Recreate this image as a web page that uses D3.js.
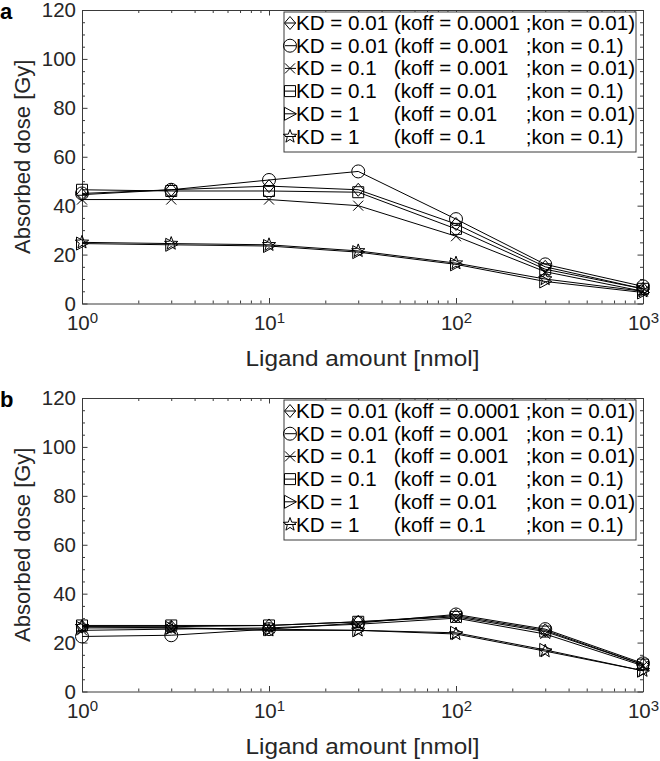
<!DOCTYPE html>
<html><head><meta charset="utf-8">
<script src="https://cdn.jsdelivr.net/npm/d3@7"></script>
<style>
body{margin:0;background:#fff}
svg text{font-family:"Liberation Sans",Arial,Helvetica,sans-serif}
</style>
</head><body>
<svg id="chart" width="660" height="761"></svg>
<script>
// ---------- data ----------
const ligandAmounts = [1, 3, 10, 30, 100, 300, 1000];
const seriesLabels = [
  "KD = 0.01 (koff = 0.0001 ;kon = 0.01)",
  "KD = 0.01 (koff = 0.001   ;kon = 0.1)",
  "KD = 0.1   (koff = 0.001   ;kon = 0.01)",
  "KD = 0.1   (koff = 0.01     ;kon = 0.1)",
  "KD = 1      (koff = 0.01     ;kon = 0.01)",
  "KD = 1      (koff = 0.1       ;kon = 0.1)"
];
const seriesMarkers = ["diamond", "circle", "cross", "square", "triangle", "star"];

// panel a
const a_kd001_koff00001 = [44.5, 46.5, 48, 46.5, 32.5, 15, 6];
const a_kd001_koff0001  = [45, 46.5, 50.5, 54, 34.5, 16, 7];
const a_kd01_koff0001   = [42.5, 42.5, 42.5, 40, 27.5, 13, 5];
const a_kd01_koff001    = [46.5, 46, 46, 45.5, 30.5, 14, 6];
const a_kd1_koff001     = [24.5, 24, 23.5, 21, 16, 9, 4.5];
const a_kd1_koff01      = [25, 24.5, 24, 21.5, 16.5, 10, 5];
// panel b
const b_kd001_koff00001 = [26.5, 26.5, 27, 28.5, 31, 25, 11];
const b_kd001_koff0001  = [22.5, 23, 25.5, 28, 31.5, 25.5, 11.5];
const b_kd01_koff0001   = [25, 25.5, 26, 27.5, 30, 23.5, 10.5];
const b_kd01_koff001    = [27, 27, 27, 28.5, 30.5, 24.5, 11];
const b_kd1_koff001     = [26, 26, 25.5, 25, 24, 17, 8.5];
const b_kd1_koff01      = [26.5, 26, 25, 25, 23.5, 16.5, 8.5];

const panelLetters = ["a", "b"];
const yTickValues = [0, 20, 40, 60, 80, 100, 120];
const xTickValues = [1, 10, 100, 1000];
const xLabel = "Ligand amount [nmol]";
const yLabel = "Absorbed dose [Gy]";

const panelSeries = [
  [a_kd001_koff00001, a_kd001_koff0001, a_kd01_koff0001, a_kd01_koff001, a_kd1_koff001, a_kd1_koff01],
  [b_kd001_koff00001, b_kd001_koff0001, b_kd01_koff0001, b_kd01_koff001, b_kd1_koff001, b_kd1_koff01]
];

// ---------- layout ----------
const L = 82, R = 643, panelTops = [10, 398], H = 293.5;
const axisColor = "#3a3a3a", textColor = "#262626";

function markerPath(type) {
  switch (type) {
    case "diamond": return "M0,-6.5L5.5,0L0,6.5L-5.5,0Z";
    case "circle": return "M6.5,0A6.5,6.5 0 1,1 -6.5,0A6.5,6.5 0 1,1 6.5,0Z";
    case "cross": return "M-5,-5L5,5M-5,5L5,-5";
    case "square": return "M-5.5,-5.5H5.5V5.5H-5.5Z";
    case "triangle": return "M-5.5,-6.5L6.5,0L-5.5,6.5Z";
    case "star": {
      let p = "";
      for (let i = 0; i < 10; i++) {
        const r = i % 2 === 0 ? 7 : 2.9;
        const a = -Math.PI / 2 + i * Math.PI / 5;
        p += (i === 0 ? "M" : "L") + (r * Math.cos(a)).toFixed(2) + "," + (r * Math.sin(a)).toFixed(2);
      }
      return p + "Z";
    }
  }
}

const svg = d3.select("#chart");
svg.append("rect").attr("width", 660).attr("height", 761).attr("fill", "#fff");

const xMinor = [];
[1, 10, 100].forEach(d => { for (let k = 2; k <= 9; k++) xMinor.push(d * k); });
const yMinor = d3.range(0, 121, 5).filter(v => v % 20 !== 0);

panelTops.forEach((top, pi) => {
  const bottom = top + H;
  const x = d3.scaleLog().domain([1, 1000]).range([L, R]);
  const y = d3.scaleLinear().domain([0, 120]).range([bottom, top]);
  const g = svg.append("g");

  function styleAxis(sel) {
    sel.selectAll("path,line").attr("stroke", axisColor).attr("stroke-width", 1);
    sel.selectAll("text").attr("fill", textColor).attr("font-size", "20.5px")
      .attr("font-family", '"Liberation Sans",Arial,sans-serif');
  }
  // minor ticks
  const mb = g.append("g").attr("transform", `translate(0,${bottom})`)
    .call(d3.axisBottom(x).tickValues(xMinor).tickSize(-3).tickSizeOuter(0).tickFormat(""));
  const mt = g.append("g").attr("transform", `translate(0,${top})`)
    .call(d3.axisTop(x).tickValues(xMinor).tickSize(-3).tickSizeOuter(0).tickFormat(""));
  const ml = g.append("g").attr("transform", `translate(${L},0)`)
    .call(d3.axisLeft(y).tickValues(yMinor).tickSize(-3).tickSizeOuter(0).tickFormat(""));
  const mr = g.append("g").attr("transform", `translate(${R},0)`)
    .call(d3.axisRight(y).tickValues(yMinor).tickSize(-3).tickSizeOuter(0).tickFormat(""));
  [mb, mt, ml, mr].forEach(s => { styleAxis(s); s.select(".domain").remove(); });

  // major axes
  const xb = g.append("g").attr("transform", `translate(0,${bottom})`)
    .call(d3.axisBottom(x).tickValues(xTickValues).tickSize(-5.5).tickSizeOuter(0).tickPadding(12)
      .tickFormat(d => "10"));
  styleAxis(xb);
  xb.selectAll(".tick text").each(function(d) {
    const t = d3.select(this);
    t.text(null);
    t.append("tspan").text("10");
    t.append("tspan").attr("dy", "-0.5em").attr("font-size", "15px").text(Math.round(Math.log10(d)));
  });
  const xt = g.append("g").attr("transform", `translate(0,${top})`)
    .call(d3.axisTop(x).tickValues(xTickValues).tickSize(-5.5).tickSizeOuter(0).tickFormat(""));
  styleAxis(xt);
  const yl = g.append("g").attr("transform", `translate(${L},0)`)
    .call(d3.axisLeft(y).tickValues(yTickValues).tickSize(-5.5).tickSizeOuter(0).tickPadding(6));
  styleAxis(yl);
  const yr = g.append("g").attr("transform", `translate(${R},0)`)
    .call(d3.axisRight(y).tickValues(yTickValues).tickSize(-5.5).tickSizeOuter(0).tickFormat(""));
  styleAxis(yr);

  // axis labels
  g.append("text").attr("x", (L + R) / 2).attr("y", bottom + 62.5).attr("text-anchor", "middle")
    .attr("font-size", "22.5px").attr("fill", textColor)
    .attr("textLength", 234).attr("lengthAdjust", "spacingAndGlyphs").text(xLabel);
  g.append("text").attr("transform", `translate(30,${(top + bottom) / 2}) rotate(-90)`)
    .attr("text-anchor", "middle").attr("font-size", "22px").attr("fill", textColor).text(yLabel);
  // panel letter
  g.append("text").attr("x", 0).attr("y", top + 8.5).attr("font-size", "22px").attr("font-weight", "bold")
    .attr("fill", "#000").text(panelLetters[pi]);

  // series
  const line = d3.line().x((d, i) => x(ligandAmounts[i])).y(d => y(d));
  panelSeries[pi].forEach((vals, si) => {
    g.append("path").datum(vals).attr("d", line).attr("fill", "none")
      .attr("stroke", "#000").attr("stroke-width", 1);
    g.selectAll(null).data(vals).enter().append("path")
      .attr("transform", (d, i) => `translate(${x(ligandAmounts[i])},${y(d)})`)
      .attr("d", markerPath(seriesMarkers[si]))
      .attr("fill", "none").attr("stroke", "#000").attr("stroke-width", 1);
  });

  // legend
  const lg = g.append("g").attr("transform", `translate(284,${top + 2})`);
  lg.append("rect").attr("x", 0).attr("y", 0).attr("width", 352).attr("height", 140)
    .attr("fill", "#fff").attr("stroke", axisColor).attr("stroke-width", 1);
  seriesLabels.forEach((lab, si) => {
    const cy = 11 + si * 22.7;
    lg.append("line").attr("x1", 1).attr("x2", 12).attr("y1", cy).attr("y2", cy)
      .attr("stroke", "#000").attr("stroke-width", 1);
    lg.append("path").attr("transform", `translate(6,${cy})`).attr("d", markerPath(seriesMarkers[si]))
      .attr("fill", "none").attr("stroke", "#000").attr("stroke-width", 1);
    lg.append("text").attr("x", 12).attr("y", cy + 7).attr("font-size", "20.6px")
      .attr("fill", "#000").style("white-space", "pre").text(lab);
  });
});
</script>
</body></html>
